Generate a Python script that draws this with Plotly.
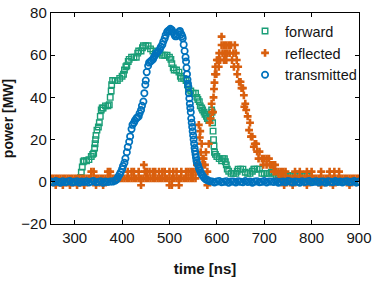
import plotly.graph_objects as go

# ---------------- data ----------------
forward_t = [250, 255, 260, 265, 270, 275, 280, 285, 290, 295, 300, 305,
             310, 312, 314, 316, 318, 320, 325, 330, 335, 338, 340, 342, 343, 344, 345, 347,
             350, 352, 354, 356, 358, 360, 365, 370, 373, 375, 377, 378, 380, 385, 390, 395,
             400, 403, 405, 408, 410, 413, 415, 420, 425, 430, 433, 435, 440, 443, 445, 450,
             455, 460, 465, 470, 475, 480, 485, 490, 495, 500, 503, 505, 508, 510, 515, 520,
             523, 525, 530, 535, 538, 540, 545, 550, 555, 558, 560, 563, 565, 568, 570, 573,
             575, 578, 580, 583, 585, 587, 589, 590, 591, 592, 593, 594, 595, 597, 600, 605,
             610, 613, 616, 618, 620, 622, 625, 630, 635, 640, 643, 645, 650, 655, 660, 665,
             670, 675, 678, 680, 685, 690, 695, 700, 705, 710, 715, 720, 725, 730, 735, 740,
             745, 750, 755, 760, 765, 770, 775, 780, 785, 790, 795, 800, 805, 810, 820, 830,
             840, 850, 860, 870, 880, 890, 900]
forward_p = [0.2, -0.2, 0.1, 0.3, -0.1, 0.2, 0.0, -0.2, 0.2, 0.1, -0.1, 0.2,
             0.5, 2, 4.5, 7, 9.5, 10, 10, 10.5, 12, 13, 13.5, 16, 18, 20, 22, 24.5,
             26, 28, 31, 34, 35, 35, 36, 36, 36.5, 40, 43, 46, 48, 48, 48, 49,
             50, 51, 53, 54.5, 55, 57, 58, 59, 59, 59, 61, 62, 62, 63.5, 64.5, 64.5,
             64.5, 63, 62, 61, 61, 61, 60, 60, 60, 59, 58, 56, 54, 53, 53, 52,
             50, 49, 49, 48, 46, 44, 43, 42, 42, 40, 39, 38, 36, 35, 34, 33,
             32, 31, 30, 29, 29, 31, 34, 33, 28, 24, 20, 17, 14, 13, 12, 11,
             10, 11, 11, 9.5, 8, 6, 5, 4, 4, 4, 5, 6, 6, 6, 4.5, 4,
             4, 5, 6, 6, 6, 6, 4, 4, 4, 4, 4.5, 4, 3, 3, 3, 3,
             3, 3, 3, 3, 3, 3, 3, 3, 3, 3, 2.5, 1.5, 0.5, 0.2, 0.0, 0.2,
             -0.1, 0.1, 0.0, 0.2, -0.1, 0.1, 0.0]

reflected_t = [250, 260, 270, 280, 290, 300, 310, 320, 330, 340, 350, 360, 370, 380, 390,
               400, 410, 420, 430, 440, 450, 460, 470, 480, 490, 500, 510, 520, 530, 540, 550,
               255, 265, 275, 285, 295, 305, 315, 325, 335, 345, 355, 365, 375, 385, 395,
               405, 415, 425, 435, 445, 455, 465, 475, 485, 495, 505, 515, 525, 535, 545, 555,
               560, 565, 570, 575, 580, 585, 590, 595, 600, 605, 610, 615, 620, 625, 630, 635,
               640, 645, 650, 655, 660, 665, 670, 675, 680, 685, 690, 695, 700, 705, 710, 715,
               720, 725, 730, 735, 740, 745, 750, 755, 760, 765, 770, 775, 780, 785, 790, 795,
               800, 805, 810, 815, 820, 825, 830, 835, 840, 845, 850, 855, 860, 865, 870, 875,
               880, 885, 890, 895, 900]
reflected_p = [1.6] * 31 + [1.6] * 31 + [
               4.8, 24, 11, 8, 4.8, 28, 33, 47, 57.7, 61, 64.8, 64.8, 64.8, 64.8, 64.8, 61,
               61, 54.5, 47.4, 44.4, 37, 31, 28, 21.4, 18, 14.3, 14.3, 11, 11, 11, 11, 8,
               4.8, 4.8, 1.6, 1.6, 1.6, 1.6, 1.6, 1.6, 1.6, 1.6, 1.6, 1.6, 1.6, 1.6, 1.6, 1.6,
               1.6, 1.6, 1.6, 1.6, 1.6, 1.6, 1.6, 1.6, 1.6, 1.6, 1.6, 1.6, 1.6, 1.6, 1.6, 1.6,
               1.6, 1.6, 1.6, 1.6, 1.6]

# scattered extra samples of the reflected signal (spikes, dips, peak spread)
reflected_extra_t = [335, 340, 370, 375, 412, 420, 425, 435, 448, 452, 458, 465, 470, 478,
                     485, 490, 500, 508, 515, 525, 535, 540, 545, 550, 555,
                     260, 275, 290, 305, 320, 345, 360, 440, 500, 505, 520, 580,
                     742, 760, 790, 820, 845, 880, 446,
                     735, 745, 765, 775, 790, 800, 820, 838, 848, 858,
                     558, 562, 564, 566, 568, 570, 572, 577, 583, 587, 589,
                     592, 593, 594, 596, 597, 599, 602, 604, 607, 610, 612, 615, 617, 620,
                     622, 627, 632, 636, 638, 642, 643, 647, 652, 657, 658, 662, 668, 672,
                     678, 683, 688, 698, 705, 712, 718, 723, 730, 740]
reflected_extra_p = [4.8, 4.8, 4.8, 4.8, 4.8, 4.8, 4.8, 4.8, 4.8, 4.8, 4.8, 4.8, 4.8, 4.8,
                     4.8, 4.8, 4.8, 4.8, 4.8, 4.8, 4.8, 4.8, 4.8, 4.8, 4.8,
                     -1.6, -1.6, -1.6, -1.6, -1.6, -1.6, -1.6, -1.6, -1.6, -1.6, -1.6, -1.6,
                     -1.6, -1.6, -1.6, -1.6, -1.6, -1.6, 8.0,
                     4.8, 4.8, 4.8, 4.8, 4.8, 4.8, 4.8, 4.8, 4.8, 4.8,
                     8, 27, 21, 14, 18, 8, 11, 14, 18, 30, 37,
                     33, 40, 44, 51, 54.5, 51, 57.7, 54.5, 57.7, 68.8, 61, 57.7, 61, 57.7,
                     61, 61, 57.7, 54.5, 64.8, 57.7, 51, 47.4, 44.4, 41, 35.6, 34, 24.5, 21.4,
                     16.6, 18, 11, 8, 8, 8, 8, 8, 4.8, 4.8]

transmitted_t = [250, 255, 260, 265, 270, 275, 280, 285, 290, 295, 300, 305, 310, 315, 320,
                 325, 330, 335, 340, 345, 350, 355, 360, 365, 370, 375, 380,
                 385, 388, 390, 392, 395, 397, 400, 402, 405, 407, 410, 412, 415, 417, 420, 422,
                 425, 427, 430, 432, 435, 437, 440, 442, 445, 447, 449, 450, 452, 455, 457, 460,
                 462, 465, 467, 470, 472, 475, 477, 480, 482, 485, 487, 490, 492, 495, 497, 500,
                 502, 505, 507, 510, 512, 515, 517, 520, 522, 525, 527,
                 528, 530, 532, 534, 535, 536, 537, 538, 539, 540, 541, 542, 543, 544, 545, 546,
                 547, 548, 549, 550, 551, 552, 553, 554, 555, 556, 557, 558, 560, 562, 564, 566,
                 568, 570, 572, 575, 578, 581, 585,
                 590, 595, 600, 605, 610, 615, 620, 625, 630, 635, 640, 645, 650, 655, 660, 665,
                 670, 675, 680, 685, 690, 695, 700, 705, 710, 715, 720, 725, 730, 735, 740, 745,
                 750, 755, 760, 765, 770, 775, 780, 785, 790, 795, 800, 805, 810, 815, 820, 825,
                 830, 835, 840, 845, 850, 855, 860, 865, 870, 875, 880, 885, 890, 895, 900]
transmitted_p = [0.2, -0.3, 0.4, 0.0, -0.4, 0.3, -0.2, 0.1, 0.4, -0.3, 0.0, 0.3, -0.4, 0.2,
                 -0.1, 0.3, -0.3, 0.1, 0.4, -0.2, 0.0, 0.3, -0.4, 0.2, -0.1, 0.2, 0.1,
                 0.5, 1, 1.5, 2.5, 3.5, 4.5, 6, 7.5, 9, 11, 14, 16.5, 19, 21.5, 25, 27,
                 28, 29, 30, 30.5, 31, 32.5, 34, 36, 38, 42, 46, 48, 52, 55, 56.5, 57,
                 57.5, 58, 59, 60, 61, 61.5, 62, 63, 64, 65, 66.5, 68, 69.5, 71, 71.5, 72,
                 72.5, 72, 71, 70, 69, 69, 70, 71, 71.5, 70, 69,
                 68, 65, 62, 59, 57, 54, 51, 48.5, 46.5, 45, 42, 39.5, 37, 35, 33, 30,
                 28, 26, 24, 22, 20, 18, 16, 14.5, 13, 11.5, 10, 9, 8, 6.5, 5.5, 4.5,
                 3.5, 3, 2.2, 1.5, 1, 0.7, 0.3,
                 0.2, -0.3, 0.1, 0.4, -0.2, 0.0, 0.3, -0.4, 0.2, 0.1, -0.3, 0.3, 0.0, -0.2,
                 0.4, -0.1, 0.2, -0.4, 0.1, 0.3, -0.2, 0.0, 0.4, -0.3, 0.1, 0.2, -0.1, 0.3,
                 -0.4, 0.0, 0.2, -0.2, 0.4, 0.1, -0.3, 0.2, 0.0, -0.4, 0.3, -0.1, 0.1, 0.4,
                 -0.2, 0.0, 0.3, -0.3, 0.2, 0.1, -0.4, 0.3, 0.0, -0.2, 0.4, -0.1, 0.2, -0.3,
                 0.1, 0.3, -0.2, 0.0, 0.4, -0.4, 0.2, 0.1, -0.1]

x_ticks = [300, 400, 500, 600, 700, 800, 900]
y_ticks = [-20, 0, 20, 40, 60, 80]

GREEN = "#1a9e77"
ORANGE = "#d95f0e"
BLUE = "#0072bd"
FONT = "Liberation Sans, Arial, sans-serif"
TXT = "#151515"

fig = go.Figure()
fig.add_trace(go.Scatter(
    x=forward_t, y=forward_p, mode="markers", name="forward",
    marker=dict(symbol="square-open", size=5.5, color=GREEN, line=dict(width=1.4, color=GREEN)),
))
fig.add_trace(go.Scatter(
    x=reflected_t + reflected_extra_t, y=reflected_p + reflected_extra_p,
    mode="markers", name="reflected",
    marker=dict(symbol="cross", size=6.5, color=ORANGE, line=dict(width=0)),
))
fig.add_trace(go.Scatter(
    x=transmitted_t, y=transmitted_p, mode="markers", name="transmitted",
    marker=dict(symbol="circle-open", size=6.3, color=BLUE, line=dict(width=1.7, color=BLUE)),
))

axis_common = dict(
    showline=True, linecolor="black", linewidth=1.4, mirror="ticks",
    ticks="inside", ticklen=4, tickwidth=1.4, tickcolor="black",
    showgrid=False, zeroline=False,
    tickfont=dict(family=FONT, size=15, color=TXT),
)

fig.update_layout(
    width=374, height=282,
    margin=dict(l=51, r=15, t=13, b=58, autoexpand=False),
    paper_bgcolor="white", plot_bgcolor="white",
    font=dict(family=FONT, size=15, color=TXT),
    showlegend=True,
    legend=dict(
        x=0.63, y=0.99, xanchor="left", yanchor="top",
        bgcolor="rgba(255,255,255,0)", borderwidth=0,
        font=dict(family=FONT, size=14.5, color=TXT),
        itemwidth=30, tracegroupgap=0,
    ),
    xaxis=dict(
        range=[250, 900], tickvals=x_ticks,
        title=dict(text="<b>time [ns]</b>", standoff=18,
                   font=dict(family=FONT, size=15, color=TXT)),
        **axis_common,
    ),
    yaxis=dict(
        range=[-20, 80], tickvals=y_ticks,
        title=dict(text="<b>power [MW]</b>", standoff=7,
                   font=dict(family=FONT, size=14, color=TXT)),
        **axis_common,
    ),
)

fig.write_html("out.html", post_script="document.body.style.margin='0';",
               config={"displayModeBar": False})
